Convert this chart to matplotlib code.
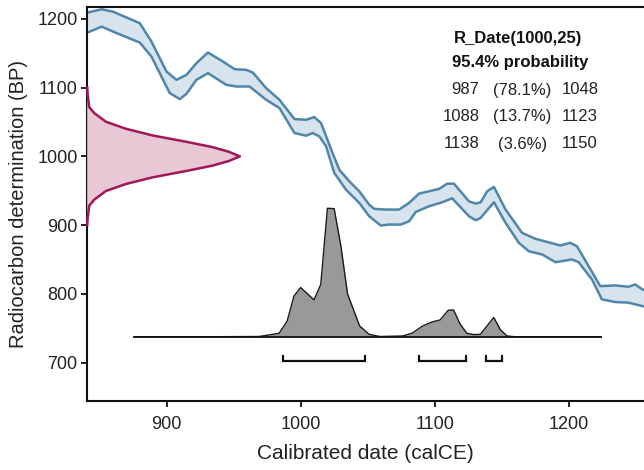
import numpy as np
import matplotlib
matplotlib.use("Agg")
import matplotlib.pyplot as plt

plt.rcParams['font.family'] = ['Liberation Sans', 'DejaVu Sans']

# Calibration curve band (calendar year CE, radiocarbon BP)
cal_upper_x = [840.9, 851.7, 860.1, 880.1, 888.8, 900.0, 907.4, 914.9, 922.3, 930.9, 942.1, 950.8,
               959.5, 964.4, 974.3, 984.2, 995.4, 1004.1, 1010.2, 1015.2, 1023.8, 1028.8, 1036.3,
               1043.7, 1051.1, 1054.9, 1063.5, 1073.4, 1080.9, 1088.3, 1103.2, 1109.3, 1114.3,
               1125.5, 1130.5, 1134.2, 1139.1, 1144.1, 1152.8, 1165.1, 1175.1, 1193.7, 1200.9,
               1206.0, 1214.7, 1223.4, 1234.6, 1244.5, 1249.4, 1254.8, 1260.0]
cal_upper_y = [1209.2, 1214.1, 1210.6, 1193.8, 1167.0, 1123.5, 1111.4, 1118.7, 1135.7, 1151.1, 1138.0,
               1126.9, 1125.9, 1122.0, 1099.3, 1082.4, 1054.3, 1053.3, 1057.2, 1048.5, 1004.9, 980.7,
               963.7, 949.2, 929.8, 923.6, 922.6, 922.6, 932.3, 945.8, 952.7, 960.3, 960.3, 934.6,
               931.3, 933.2, 949.2, 955.6, 922.6, 888.7, 880.0, 870.3, 874.2, 869.3, 840.2, 811.2,
               812.2, 810.3, 813.7, 806.4, 803.0]
cal_lower_x = [840.9, 851.7, 860.1, 880.1, 888.8, 902.4, 909.9, 914.9, 922.3, 930.9, 944.6, 952.0,
               961.9, 974.3, 984.2, 995.4, 1004.1, 1009.0, 1014.0, 1019.0, 1025.1, 1033.8, 1043.7,
               1051.1, 1059.8, 1066.0, 1074.7, 1080.9, 1085.9, 1095.7, 1105.6, 1113.0, 1125.5,
               1130.5, 1134.2, 1144.1, 1152.8, 1162.7, 1170.1, 1180.1, 1190.0, 1202.3, 1207.3,
               1217.2, 1224.6, 1234.6, 1244.5, 1254.8, 1260.0]
cal_lower_y = [1180.1, 1188.8, 1181.6, 1165.6, 1145.2, 1092.1, 1083.4, 1091.1, 1111.4, 1121.1, 1104.1,
               1101.7, 1101.7, 1082.4, 1070.3, 1034.0, 1030.1, 1034.0, 1029.0, 1014.5, 975.9, 951.6,
               932.3, 912.9, 899.3, 900.8, 900.8, 905.6, 919.2, 927.4, 933.2, 939.0, 912.9, 907.0,
               910.5, 933.2, 903.3, 874.2, 862.0, 857.2, 846.0, 850.0, 846.0, 820.9, 791.9, 788.0,
               787.1, 782.1, 779.0]

# Radiocarbon determination density (BP vs relative height in cal years)
prior_bp = [900, 910, 928.4, 937.1, 949.6, 959.8, 969.5, 978.6, 986.5, 993.3, 1000,
            1006.7, 1013.5, 1021.4, 1030.5, 1040.2, 1050.4, 1062.9, 1071.6, 1090, 1100]
prior_h = [0.4, 0.7, 1.9, 5.7, 14.3, 29.2, 49.1, 73.8, 93.7, 106.0, 114.2,
           106.0, 93.7, 73.8, 49.1, 29.2, 14.3, 5.7, 1.9, 0.7, 0.4]

# Calibrated date density (cal CE vs relative probability)
post_cal = [876, 930, 969, 984, 990, 995, 1000, 1010, 1015, 1020, 1025, 1030, 1035, 1044,
            1051, 1059, 1076, 1083, 1091, 1098, 1104, 1110, 1114, 1119, 1124, 1129, 1134,
            1144, 1149, 1154, 1160, 1224]
post_p = [0, 0, 0.002, 0.027, 0.123, 0.316, 0.383, 0.287, 0.407, 1.0, 0.997, 0.707, 0.332,
          0.084, 0.019, 0.002, 0.006, 0.027, 0.084, 0.115, 0.131, 0.206, 0.209, 0.096, 0.027,
          0.017, 0.019, 0.150, 0.053, 0.006, 0, 0]

# 95.4% ranges
range_from = [987, 1088, 1138]
range_to = [1048, 1123, 1150]
range_pct = ["(78.1%)", "(13.7%)", "(3.6%)"]

title_lines = ["R_Date(1000,25)", "95.4% probability"]
xticks = [900, 1000, 1100, 1200]
yticks = [700, 800, 900, 1000, 1100, 1200]
xlim = (840.5, 1256)
ylim = (644, 1217.4)

fig = plt.figure(figsize=(6.44, 4.70), dpi=100)
ax = fig.add_axes([86.7 / 644, 69 / 470, 1 - 86.7 / 644, (401 - 7) / 470])
ax.set_xlim(*xlim)
ax.set_ylim(*ylim)

# calibration band
band_x = np.concatenate([cal_upper_x, cal_lower_x[::-1]])
band_y = np.concatenate([cal_upper_y, cal_lower_y[::-1]])
ax.fill(band_x, band_y, color='#d7e3ed', lw=0, zorder=1)
ax.plot(cal_upper_x, cal_upper_y, color='#4f86a9', lw=1.8, zorder=2, solid_joinstyle='round')
ax.plot(cal_lower_x, cal_lower_y, color='#4f86a9', lw=1.8, zorder=2, solid_joinstyle='round')

# radiocarbon density on y-axis
px = xlim[0] + np.array(prior_h)
ax.fill_betweenx(prior_bp, xlim[0], px, color='#e8c8d5', lw=0, zorder=3)
ax.plot(px, prior_bp, color='#a0175a', lw=1.8, zorder=4, clip_on=False)

# calibrated density
base = 737.5
scale = 187.0
post_y = base + np.array(post_p) * scale
ax.fill_between(post_cal, base, post_y, color='#999999', lw=0, zorder=3)
ax.plot(post_cal, post_y, color='#1a1a1a', lw=1.0, zorder=4)
ax.plot([post_cal[0], post_cal[-1]], [base, base], color='#111111', lw=1.3, zorder=5)

# range brackets
by = 702.3
tip = 7.0
for a, b in zip(range_from, range_to):
    ax.plot([a, a, b, b], [by + tip, by, by, by + tip], color='#111111', lw=1.6,
            solid_joinstyle='miter', zorder=5)

# text block
fs = 12
fig.text(517.7 / 644, 1 - 39 / 470, title_lines[0], ha='center', va='center',
         fontsize=fs, fontweight='bold', color='#111111')
fig.text(520 / 644, 1 - 62.7 / 470, title_lines[1], ha='center', va='center',
         fontsize=fs, fontweight='bold', color='#111111')
row_y = [90, 116.7, 144]
for ry, a, p, b in zip(row_y, range_from, range_pct, range_to):
    fig.text(479.3 / 644, 1 - ry / 470, str(a), ha='right', va='center', fontsize=fs, color='#222222')
    fig.text(522.5 / 644, 1 - ry / 470, p, ha='center', va='center', fontsize=fs, color='#222222')
    fig.text(561.7 / 644, 1 - ry / 470, str(b), ha='left', va='center', fontsize=fs, color='#222222')

ax.set_xticks(xticks)
ax.set_yticks(yticks)
ax.tick_params(axis='both', direction='out', length=4.5, width=1.3, labelsize=13,
               color='#111111', labelcolor='#222222')
ax.tick_params(axis='x', pad=6)
ax.tick_params(axis='y', pad=2)
for s in ['left', 'bottom', 'top']:
    ax.spines[s].set_linewidth(1.5)
    ax.spines[s].set_color('#111111')
ax.spines['right'].set_visible(False)

ax.set_xlabel('Calibrated date (calCE)', fontsize=15, color='#222222', labelpad=8)
ax.set_ylabel('Radiocarbon determination (BP)', fontsize=14.5, color='#222222', labelpad=7)

fig.savefig('out.png', dpi=100)
